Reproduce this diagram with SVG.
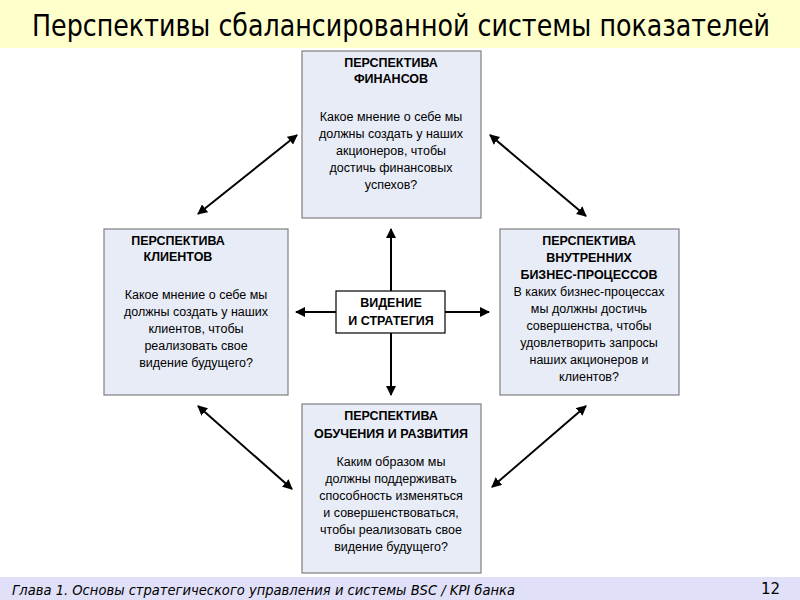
<svg xmlns="http://www.w3.org/2000/svg" width="800" height="600" viewBox="0 0 800 600">
<style>
.b{fill:#E8ECF6;stroke:#7F7F7F;stroke-width:1.2}
.t{font-family:"Liberation Sans",Arial,sans-serif;font-size:12.5px;text-anchor:middle;fill:#000}
.h{font-weight:bold}
.c line{stroke:#000;stroke-width:2;marker-end:url(#a)}
.d line{stroke:#000;stroke-width:2;marker-end:url(#a);marker-start:url(#s)}
</style>
<defs>
<marker id="a" viewBox="0 0 10 10" refX="9" refY="5" markerWidth="5" markerHeight="5" orient="auto"><path d="M0,0L10,5L0,10z"/></marker>
<marker id="s" viewBox="0 0 10 10" refX="1" refY="5" markerWidth="5" markerHeight="5" orient="auto"><path d="M10,0L0,5L10,10z"/></marker>
</defs>
<rect x="0" y="0" width="800" height="48" fill="#FFFFCC"/>
<text x="32" y="36" font-family="'DejaVu Sans','Liberation Sans',sans-serif" font-size="30" textLength="738" lengthAdjust="spacingAndGlyphs" fill="#000">Перспективы сбалансированной системы показателей</text>
<rect x="0" y="577" width="800" height="23" fill="#E0E0F8"/>
<text x="12" y="595" font-family="'DejaVu Sans','Liberation Sans',sans-serif" font-size="14" font-style="italic" textLength="503" lengthAdjust="spacingAndGlyphs" fill="#000">Глава 1. Основы стратегического управления и системы BSC / KPI банка</text>
<text x="780" y="594" font-family="'DejaVu Sans',sans-serif" font-size="15" text-anchor="end" fill="#000">12</text>
<g class="c">
<line x1="391" y1="291" x2="391" y2="229"/>
<line x1="391" y1="333" x2="391" y2="395"/>
<line x1="336" y1="312" x2="296" y2="312"/>
<line x1="445" y1="312" x2="489" y2="312"/>
</g>
<g class="d">
<line x1="198" y1="214" x2="297" y2="135"/>
<line x1="490" y1="135" x2="586" y2="216"/>
<line x1="198" y1="406" x2="292" y2="489"/>
<line x1="586" y1="406" x2="492" y2="487"/>
</g>
<g id="fin"><rect class="b" x="302" y="51" width="179" height="167"/>
<text class="t"><tspan class="h" x="391" y="67">ПЕРСПЕКТИВА</tspan><tspan class="h" x="391" y="83">ФИНАНСОВ</tspan><tspan x="391" y="121">Какое мнение о себе мы</tspan><tspan x="391" y="138">должны создать у наших</tspan><tspan x="391" y="155">акционеров, чтобы</tspan><tspan x="391" y="172">достичь финансовых</tspan><tspan x="391" y="189">успехов?</tspan></text></g>
<g id="cli"><rect class="b" x="104" y="229" width="184" height="166"/>
<text class="t"><tspan class="h" x="178" y="245">ПЕРСПЕКТИВА</tspan><tspan class="h" x="178" y="261">КЛИЕНТОВ</tspan><tspan x="196" y="299">Какое мнение о себе мы</tspan><tspan x="196" y="316">должны создать у наших</tspan><tspan x="196" y="333">клиентов, чтобы</tspan><tspan x="196" y="350">реализовать свое</tspan><tspan x="196" y="367">видение будущего?</tspan></text></g>
<g id="proc"><rect class="b" x="500" y="229" width="179" height="166"/>
<text class="t"><tspan class="h" x="589" y="245">ПЕРСПЕКТИВА</tspan><tspan class="h" x="589" y="262">ВНУТРЕННИХ</tspan><tspan class="h" x="589" y="279">БИЗНЕС-ПРОЦЕССОВ</tspan><tspan x="589" y="296">В каких бизнес-процессах</tspan><tspan x="589" y="313">мы должны достичь</tspan><tspan x="589" y="330">совершенства, чтобы</tspan><tspan x="589" y="347">удовлетворить запросы</tspan><tspan x="589" y="364">наших акционеров и</tspan><tspan x="589" y="381">клиентов?</tspan></text></g>
<g id="learn"><rect class="b" x="302" y="404" width="179" height="169"/>
<text class="t"><tspan class="h" x="391" y="420">ПЕРСПЕКТИВА</tspan><tspan class="h" x="391" y="438">ОБУЧЕНИЯ И РАЗВИТИЯ</tspan><tspan x="391" y="466">Каким образом мы</tspan><tspan x="391" y="483">должны поддерживать</tspan><tspan x="391" y="500">способность изменяться</tspan><tspan x="391" y="517">и совершенствоваться,</tspan><tspan x="391" y="534">чтобы реализовать свое</tspan><tspan x="391" y="551">видение будущего?</tspan></text></g>
<g id="vision"><rect x="336" y="291" width="109" height="42" fill="#fff" stroke="#000" stroke-width="1.2"/>
<text class="t h"><tspan x="391" y="307">ВИДЕНИЕ</tspan><tspan x="391" y="325">И СТРАТЕГИЯ</tspan></text></g>
</svg>
